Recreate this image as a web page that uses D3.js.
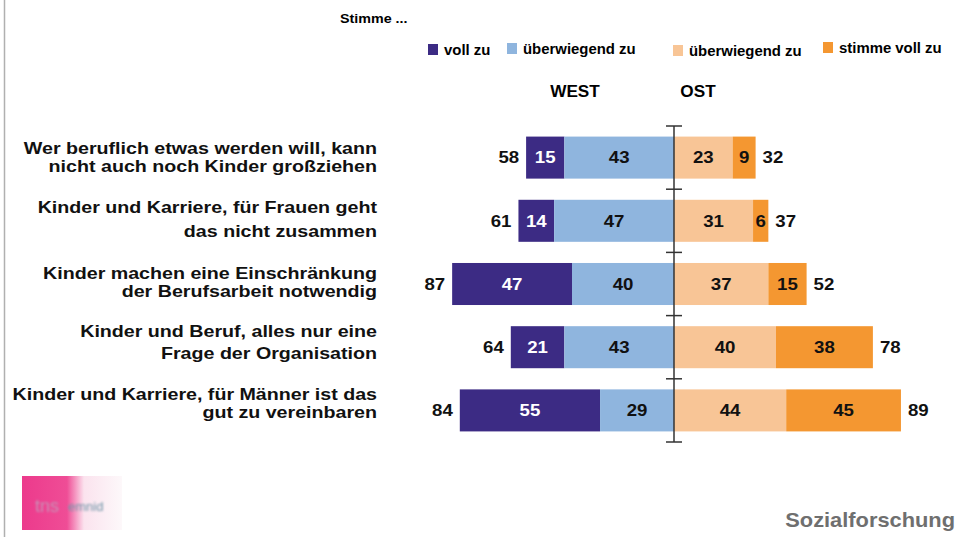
<!DOCTYPE html>
<html>
<head>
<meta charset="utf-8">
<script src="https://cdn.jsdelivr.net/npm/d3@7"></script>
<style>
  body { margin: 0; background: #fff; }
  svg { display: block; font-family: "Liberation Sans", Arial, sans-serif; font-weight: bold; }
</style>
</head>
<body>
<svg class="chart" width="962" height="540"></svg>
<script>
// statements (two lines each)
const statements = [
  ['Wer beruflich etwas werden will, kann', 'nicht auch noch Kinder großziehen'],
  ['Kinder und Karriere, für Frauen geht', 'das nicht zusammen'],
  ['Kinder machen eine Einschränkung', 'der Berufsarbeit notwendig'],
  ['Kinder und Beruf, alles nur eine', 'Frage der Organisation'],
  ['Kinder und Karriere, für Männer ist das', 'gut zu vereinbaren']
]

// West: stimme voll zu / überwiegend zu
const westVoll = [15, 14, 47, 21, 55]
const westUeber = [43, 47, 40, 43, 29]
// Ost: überwiegend zu / stimme voll zu
const ostUeber = [23, 31, 37, 40, 44]
const ostVoll = [9, 6, 15, 38, 45]

const westTotal = [58, 61, 87, 64, 84]
const ostTotal = [32, 37, 52, 78, 89]

const legendLabels = ['voll zu', 'überwiegend zu', 'überwiegend zu', 'stimme voll zu']
const colors = ['#3c2b84', '#8fb5de', '#f8c596', '#f49731']

const svg = d3.select('svg.chart')

const cx = 674
const x = d3.scaleLinear().domain([0, 100]).range([0, 255])
const y = d3.scaleBand()
  .domain(d3.range(statements.length))
  .range([126, 442])
  .paddingInner(0.335)
  .paddingOuter(0.1675)

// text with a little horizontal stretch, like the slide
const addText = (g, tx, ty, str, size, sx, anchor) => g.append('text')
  .attr('transform', `translate(${tx},${ty}) scale(${sx},1)`)
  .attr('text-anchor', anchor || 'start')
  .attr('font-size', size)
  .text(str)

// left border line
svg.append('line')
  .attr('x1', 4.5).attr('x2', 4.5)
  .attr('y1', 0).attr('y2', 537)
  .attr('stroke', '#b0b0b0').attr('stroke-width', 1.5)

// title + legend
addText(svg, 340, 23, 'Stimme ...', 13, 1.1)

const legendPos = [
  { x: 428, y: 55 },
  { x: 507, y: 54 },
  { x: 673, y: 56 },
  { x: 823, y: 53 }
]
legendLabels.forEach((l, i) => {
  const p = legendPos[i]
  svg.append('rect')
    .attr('x', p.x).attr('y', p.y - 11)
    .attr('width', 10).attr('height', 11)
    .attr('fill', colors[i])
  addText(svg, p.x + 16, p.y, l, 13.8, 1.08)
})

addText(svg, 575, 97, 'WEST', 16.5, 1.04, 'middle')
addText(svg, 698, 97, 'OST', 16.5, 1.04, 'middle')

// statement labels
const lineY = [[154, 172], [213, 237], [279, 297], [337, 359], [400, 418]]
statements.forEach((lines, i) => {
  lines.forEach((t, j) => {
    addText(svg, 377, lineY[i][j], t, 16.8, 1.17, 'end')
      .attr('fill', '#111')
  })
})

// build segments
const segments = []
statements.forEach((s, i) => {
  segments.push({ row: i, x0: -(westVoll[i] + westUeber[i]), v: westVoll[i], c: 0 })
  segments.push({ row: i, x0: -westUeber[i], v: westUeber[i], c: 1 })
  segments.push({ row: i, x0: 0, v: ostUeber[i], c: 2 })
  segments.push({ row: i, x0: ostUeber[i], v: ostVoll[i], c: 3 })
})

const px = v => cx + (v < 0 ? -x(-v) : x(v))
const numSize = 16.2
const numSx = 1.15
const midY = i => y(i) + y.bandwidth() / 2 + 5.8

const seg = svg.append('g').selectAll('g')
  .data(segments)
  .join('g')

seg.append('rect')
  .attr('x', d => px(d.x0))
  .attr('y', d => y(d.row))
  .attr('width', d => x(d.v))
  .attr('height', y.bandwidth())
  .attr('fill', d => colors[d.c])

seg.each(function (d) {
  addText(d3.select(this), px(d.x0) + x(d.v) / 2, midY(d.row), d.v, numSize, numSx, 'middle')
    .attr('fill', d.c === 0 ? '#fff' : '#111')
})

// totals
const totals = svg.append('g')
westTotal.forEach((d, i) => {
  addText(totals, px(-(westVoll[i] + westUeber[i])) - 7, midY(i), d, numSize, numSx, 'end')
    .attr('fill', '#111')
})
ostTotal.forEach((d, i) => {
  addText(totals, px(ostUeber[i] + ostVoll[i]) + 7, midY(i), d, numSize, numSx, 'start')
    .attr('fill', '#111')
})

// center axis with ticks at band boundaries
const tickYs = d3.range(statements.length + 1).map(i => y.range()[0] + i * y.step())
svg.append('line')
  .attr('x1', cx).attr('x2', cx)
  .attr('y1', tickYs[0]).attr('y2', tickYs[tickYs.length - 1])
  .attr('stroke', '#333').attr('stroke-width', 1.5)
svg.append('g').selectAll('line')
  .data(tickYs)
  .join('line')
  .attr('x1', cx - 8).attr('x2', cx + 8)
  .attr('y1', d => d).attr('y2', d => d)
  .attr('stroke', '#333').attr('stroke-width', 1.5)

// logo (blurred)
const defs = svg.append('defs')
const grad = defs.append('linearGradient').attr('id', 'logoGrad')
grad.append('stop').attr('offset', '0%').attr('stop-color', '#ec3a8c')
grad.append('stop').attr('offset', '45%').attr('stop-color', '#ef4d96')
grad.append('stop').attr('offset', '62%').attr('stop-color', '#fbe3ee')
grad.append('stop').attr('offset', '100%').attr('stop-color', '#fdf8fa')
defs.append('filter').attr('id', 'blur')
  .append('feGaussianBlur').attr('stdDeviation', 1.1)
svg.append('rect')
  .attr('x', 22).attr('y', 476)
  .attr('width', 100).attr('height', 54)
  .attr('fill', 'url(#logoGrad)')
svg.append('text')
  .attr('x', 35).attr('y', 512)
  .attr('font-size', 18)
  .attr('font-weight', 'normal')
  .attr('fill', '#c98fb6')
  .attr('filter', 'url(#blur)')
  .text('tns')
svg.append('text')
  .attr('x', 68).attr('y', 511)
  .attr('font-size', 13)
  .attr('font-weight', 'normal')
  .attr('fill', '#6f95a8')
  .attr('filter', 'url(#blur)')
  .text('emnid')

addText(svg, 955, 527, 'Sozialforschung', 19.5, 1.12, 'end')
  .attr('fill', '#6f6f6f')
</script>
</body>
</html>
